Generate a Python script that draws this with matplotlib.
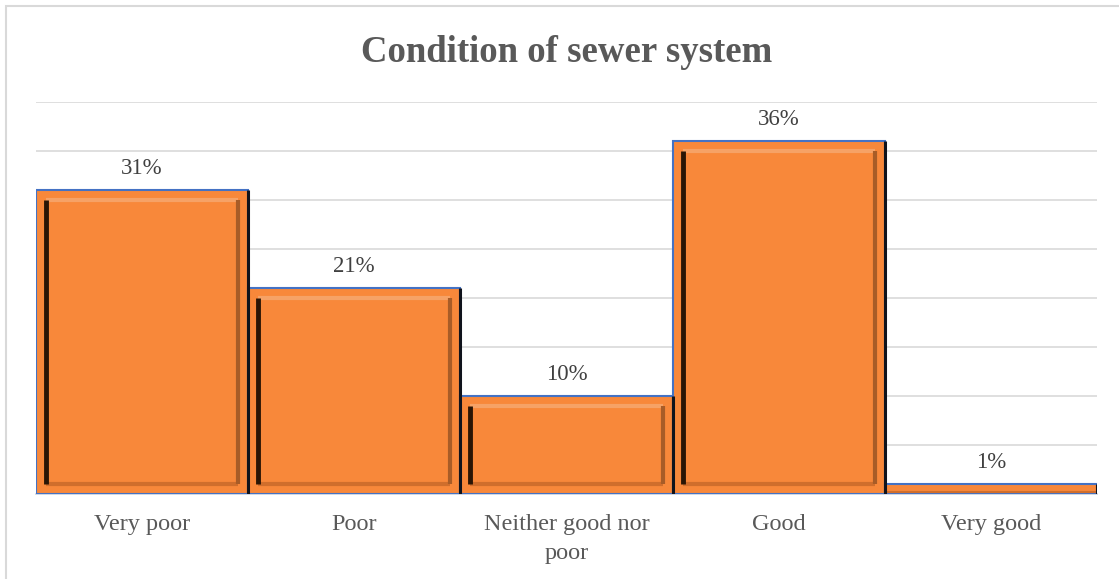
import matplotlib
matplotlib.use("Agg")
import matplotlib.pyplot as plt
from matplotlib.patches import Rectangle

categories = ["Very poor", "Poor", "Neither good nor\npoor", "Good", "Very good"]
values = [31, 21, 10, 36, 1]
labels = ["31%", "21%", "10%", "36%", "1%"]

W, H = 1119, 579
fig = plt.figure(figsize=(W / 100, H / 100), dpi=100)
fig.patch.set_facecolor("white")

# light chart-area frame
fig.patches.append(Rectangle((6 / W, -0.05), 1.2, (H - 6) / H + 0.05,
                             transform=fig.transFigure, fill=False,
                             edgecolor="#D9D9D9", linewidth=1.5))

left_px, right_px, top_px, base_px = 36, 1097, 102, 494
ax = fig.add_axes([left_px / W, (H - base_px) / H,
                   (right_px - left_px) / W, (base_px - top_px) / H])

serif = ["Liberation Serif", "DejaVu Serif"]

x = list(range(len(categories)))
bars = ax.bar(x, values, width=1.0, color="#F8883A", edgecolor="#4472C4",
              linewidth=1.5, zorder=3)

ax.set_xlim(-0.5, len(categories) - 0.5)
ax.set_ylim(0, 40)
ax.set_yticks(range(0, 41, 5))
ax.yaxis.grid(True, color="#D9D9D9", linewidth=1.2, zorder=0)
ax.set_yticklabels([])
ax.tick_params(axis="y", length=0)
ax.tick_params(axis="x", length=0, pad=14.5)
for s in ["top", "right", "left"]:
    ax.spines[s].set_visible(False)
ax.spines["bottom"].set_color("#C9D0DC")
ax.spines["bottom"].set_linewidth(1.2)

ax.set_xticks(x)
ax.set_xticklabels(categories, fontsize=17.5, color="#595959", family=serif,
                   linespacing=1.5)

# bevel decoration derived from each bar's geometry
dx = (len(categories)) / (right_px - left_px)
dy = 40 / (base_px - top_px)
inset = 10
for b in bars:
    bx, bw, bh = b.get_x(), b.get_width(), b.get_height()
    ax.plot([bx + bw, bx + bw], [0, bh], color="#10131c", lw=2.2, zorder=5,
            solid_capstyle="butt")
    if bh > 4 * inset * dy:
        ix, iy = inset * dx, inset * dy
        l, r = bx + ix, bx + bw - ix
        btm, tp = iy, bh - iy
        ax.plot([l, r], [tp, tp], color="#F6A266", lw=3, zorder=4,
                solid_capstyle="butt")
        ax.plot([l, r], [btm, btm], color="#D06E2C", lw=3, zorder=4,
                solid_capstyle="butt")
        ax.plot([r, r], [btm, tp], color="#A85C27", lw=3, zorder=4,
                solid_capstyle="butt")
        ax.plot([l, l], [btm, tp], color="#2A1505", lw=3.5, zorder=4,
                solid_capstyle="butt")
    else:
        ax.plot([bx, bx + bw], [bh * 0.25, bh * 0.25], color="#D06E2C",
                lw=1.5, zorder=4)

for b, lab in zip(bars, labels):
    ax.annotate(lab, (b.get_x() + b.get_width() / 2, b.get_height()),
                xytext=(0, 8), textcoords="offset points", ha="center",
                va="bottom", fontsize=16.5, color="#404040", family=serif)

fig.text(0.5 + 7 / W, (H - 52) / H, "Condition of sewer system", ha="center",
         va="center", fontsize=26.5, fontweight="bold", color="#595959",
         family=serif)

fig.savefig("out.png", dpi=100, facecolor="white")
